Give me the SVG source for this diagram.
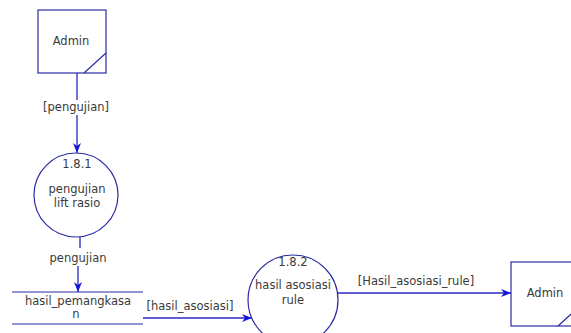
<svg xmlns="http://www.w3.org/2000/svg" width="571" height="333" viewBox="0 0 571 333">
<defs>
<style>
.shape{fill:none;stroke:#2b2ba6;stroke-width:1.2}
.conn{fill:none;stroke:#2828c0;stroke-width:1.3}
text{font-family:"DejaVu Sans",Verdana,sans-serif;font-size:11.5px;fill:#3a3a3a;text-anchor:middle}
</style>
<marker id="arr" viewBox="0 0 10 8" refX="10" refY="4" markerWidth="10" markerHeight="8" markerUnits="userSpaceOnUse" orient="auto">
<path d="M0,0 L10,4 L0,8 L3,4 z" fill="#1414d8"/>
</marker>
</defs>
<rect width="571" height="333" fill="#fff"/>
<g id="admin1">
<rect class="shape" x="38" y="10" width="68" height="63"/>
<line class="shape" x1="84" y1="73" x2="106" y2="53"/>
<text x="71" y="45">Admin</text>
</g>
<g id="p181">
<circle class="shape" cx="76" cy="195" r="42"/>
<text x="77" y="168">1.8.1</text>
<text x="77" y="193">pengujian</text>
<text x="77" y="207">lift rasio</text>
</g>
<g id="store">
<line class="shape" x1="12" y1="292" x2="143" y2="292"/>
<line class="shape" x1="12" y1="324" x2="143" y2="324"/>
<text x="78" y="305">hasil_pemangkasa</text>
<text x="76" y="318">n</text>
</g>
<g id="p182">
<circle class="shape" cx="293" cy="300" r="45"/>
<text x="293" y="266">1.8.2</text>
<text x="293" y="289">hasil asosiasi</text>
<text x="293" y="304">rule</text>
</g>
<g id="admin2">
<rect class="shape" x="511" y="262" width="68" height="64"/>
<line class="shape" x1="558" y1="326" x2="580" y2="306"/>
<text x="545" y="297">Admin</text>
</g>
<g id="connectors">
<line class="conn" x1="77" y1="73" x2="77" y2="100"/>
<line class="conn" x1="77" y1="115" x2="77" y2="153" marker-end="url(#arr)"/>
<text x="76" y="111">[pengujian]</text>
<polyline class="conn" points="80,237 80,248"/>
<polyline class="conn" points="78,266 78,292" marker-end="url(#arr)"/>
<text x="78" y="262">pengujian</text>
<line class="conn" x1="143" y1="318" x2="252" y2="318" marker-end="url(#arr)"/>
<text x="190" y="310">[hasil_asosiasi]</text>
<line class="conn" x1="338" y1="293" x2="511" y2="293" marker-end="url(#arr)"/>
<text x="416" y="285">[Hasil_asosiasi_rule]</text>
</g>
</svg>
